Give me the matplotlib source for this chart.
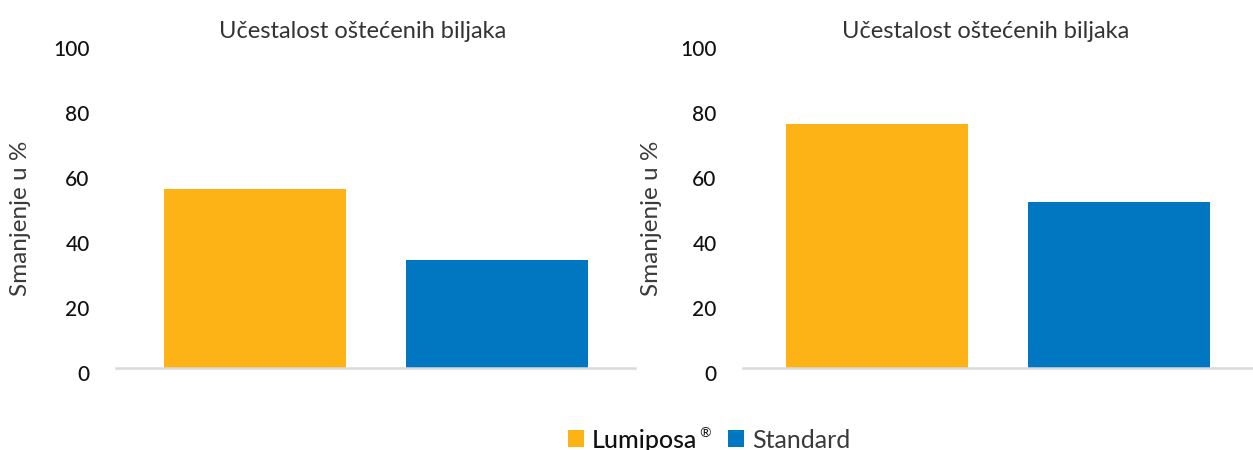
import matplotlib
matplotlib.use("Agg")
import matplotlib.pyplot as plt
from matplotlib.patches import Patch
import matplotlib.transforms as mtransforms

plt.rcParams['font.family'] = ['Lato', 'DejaVu Sans']

categories = ["Lumiposa", "Standard"]
title = "Učestalost oštećenih biljaka"
ylabel = "Smanjenje u %"
left_values = [55, 33]
right_values = [75, 51]
yticks = [0, 20, 40, 60, 80, 100]

colors = ["#FDB316", "#0077C0"]

fig = plt.figure(figsize=(12.53, 4.5), dpi=100)

W, H = 1253, 450
def frac_x(px):
    return px / W
def frac_y(py):
    return 1 - py / H

axes_specs = [
    # left px, right px, values, xlim, title x px, ylabel right px
    (116, 635, left_values, (-0.5744, 1.5702), 363, 31),
    (743, 1253, right_values, (-0.5537, 1.5537), 985.5, 662),
]

for lpx, rpx, vals, xl, tx, ylx in axes_specs:
    ax = fig.add_axes([frac_x(lpx), frac_y(367.5), (rpx - lpx) / W, 325 / H])
    ax.bar(range(len(vals)), vals, width=0.752, color=colors, zorder=2)
    ax.set_xlim(*xl)
    ax.set_ylim(0, 100)
    ax.set_yticks(yticks)
    ax.set_xticks([])
    for s in ["top", "right", "left"]:
        ax.spines[s].set_visible(False)
    ax.spines["bottom"].set_color("#d9d9d9")
    ax.spines["bottom"].set_linewidth(1.8)
    ax.spines["bottom"].set_zorder(3)
    ax.tick_params(axis="y", length=0, pad=19, labelsize=15, labelcolor="#111111")
    offset = mtransforms.ScaledTranslation(0, -5.5 / 100, fig.dpi_scale_trans)
    for lab in ax.get_yticklabels():
        lab.set_transform(lab.get_transform() + offset)
        lab.set_fontweight("medium")
    ax.set_ylabel(ylabel, fontsize=17.5, color="#3a3a3a", fontweight="normal")
    ax.yaxis.set_label_coords((ylx - lpx) / (rpx - lpx), (367.5 - 218) / 325)
    ax.text((tx - lpx) / (rpx - lpx), (367.5 - 31) / 325, title,
            transform=ax.transAxes, ha="center", va="center",
            fontsize=17, color="#333333", fontweight="normal")

handles = [Patch(facecolor=colors[0], edgecolor="none"),
           Patch(facecolor=colors[1], edgecolor="none")]
leg = fig.legend(handles, categories,
                 loc="center", bbox_to_anchor=(frac_x(709), frac_y(440)),
                 ncol=2, frameon=False, fontsize=18,
                 handlelength=0.65, handleheight=0.65, handletextpad=0.3,
                 columnspacing=1.25, borderpad=0.1)
t0 = leg.get_texts()[0]
t0.set_fontweight("medium")
t0.set_color("#111111")
leg.get_texts()[1].set_color("#3a3a3a")

# superscript registered sign right after "Lumiposa" (in the column gap)
fig.canvas.draw()
renderer = fig.canvas.get_renderer()
bb = t0.get_window_extent(renderer)
fig.text((bb.x1 + 2) / W, (bb.y0 + bb.height * 0.55) / H, "®",
         fontsize=10, color="#111111", ha="left", va="bottom")

fig.savefig("out.png", dpi=100)
